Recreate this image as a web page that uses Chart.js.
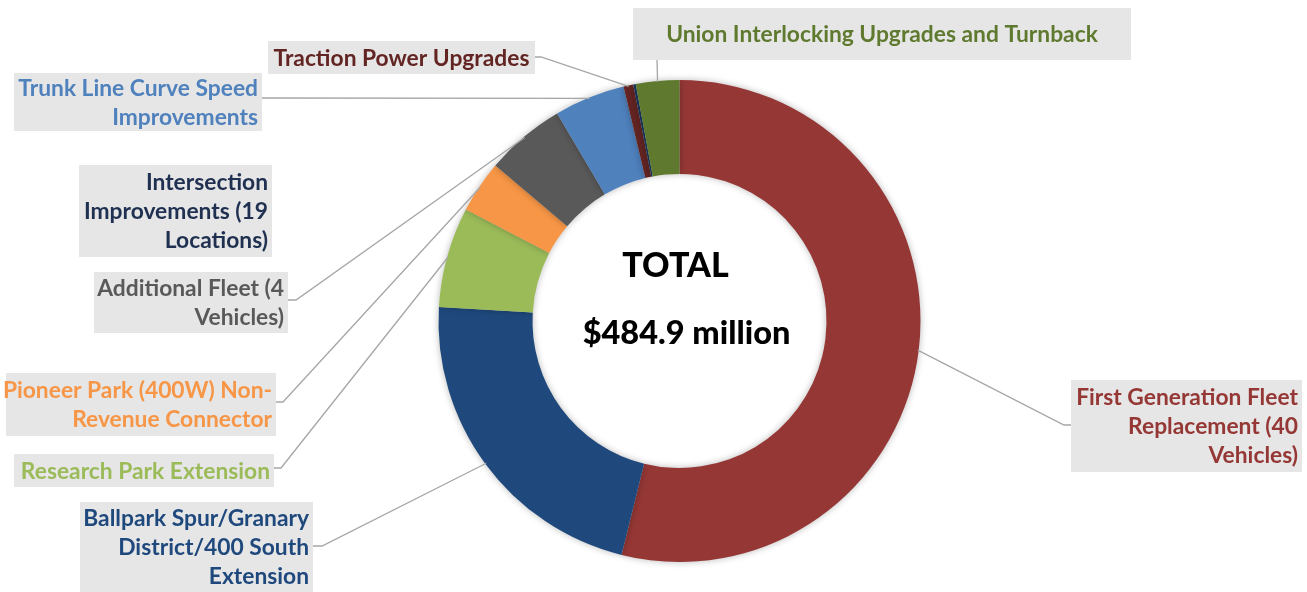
<!DOCTYPE html>
<html>
<head>
<meta charset="utf-8">
<script src="https://cdn.jsdelivr.net/npm/chart.js@4.4.0/dist/chart.umd.min.js"></script>
<style>
  html, body { margin: 0; padding: 0; background: #fff; }
  #wrap { width: 1307px; height: 592px; }
</style>
</head>
<body>
<div id="wrap"><canvas id="grafico"></canvas></div>
<script>
// data ($ millions), clockwise from 12 o'clock
const categories = [
  'First Generation Fleet Replacement (40 Vehicles)',
  'Ballpark Spur/Granary District/400 South Extension',
  'Research Park Extension',
  'Pioneer Park (400W) Non-Revenue Connector',
  'Additional Fleet (4 Vehicles)',
  'Trunk Line Curve Speed Improvements',
  'Traction Power Upgrades',
  'Intersection Improvements (19 Locations)',
  'Union Interlocking Upgrades and Turnback'
]
const values = [261.2, 107, 32.6, 17, 26, 23, 3.2, 0.8, 14.1]
const labelLines = [
  ['First Generation Fleet', 'Replacement (40', 'Vehicles)'],
  ['Ballpark Spur/Granary', 'District/400 South', 'Extension'],
  ['Research Park Extension'],
  ['Pioneer Park (400W) Non-', 'Revenue Connector'],
  ['Additional Fleet (4', 'Vehicles)'],
  ['Trunk Line Curve Speed', 'Improvements'],
  ['Traction Power Upgrades'],
  ['Intersection', 'Improvements (19', 'Locations)'],
  ['Union Interlocking Upgrades and Turnback']
]
const totalTitle = 'TOTAL'
const totalText = '$484.9 million'

const cores = ['#953735', '#1f497d', '#9bbb59', '#f79646', '#595959', '#4f81bd', '#632523', '#17375e', '#5f7a2f']
const coresTexto = ['#953735', '#1f497d', '#9bbb59', '#f79646', '#595959', '#4f81bd', '#632523', '#1f3050', '#5f7a2f']

// label boxes: x, y, w, h, line start (sx, sy), elbow point (ex, ey), align
const caixas = [
  { x: 1071, y: 380, w: 231, h: 92, sx: 1071, sy: 425, ex: 1064, ey: 425, align: 'right' },
  { x: 80, y: 502, w: 233, h: 90, sx: 313, sy: 546, ex: 322, ey: 546, align: 'right' },
  { x: 14, y: 454, w: 260, h: 33, sx: 274, sy: 468, ex: 281, ey: 468, align: 'right' },
  { x: 6, y: 373, w: 270, h: 63, sx: 276, sy: 402, ex: 283, ey: 402, align: 'right' },
  { x: 94, y: 272, w: 194, h: 61, sx: 288, sy: 300, ex: 296, ey: 300, align: 'right' },
  { x: 14, y: 73, w: 248, h: 58, sx: 262, sy: 98, ex: 262, ey: 98, align: 'right' },
  { x: 268, y: 41, w: 267, h: 33, sx: 535, sy: 57, ex: 541, ey: 57, align: 'center' },
  { x: 79, y: 165, w: 193, h: 92, sx: null, align: 'right' },
  { x: 633, y: 8, w: 498, h: 52, sx: 657, sy: 60, ex: 657, ey: 60, align: 'center' }
]

const rotulos = {
  id: 'rotulos',
  beforeDatasetsDraw(chart) {
    const ctx = chart.ctx
    ctx.save()
    ctx.shadowColor = 'rgba(0,0,0,0.28)'
    ctx.shadowBlur = 7
  },
  afterDatasetsDraw(chart) {
    chart.ctx.restore()
  },
  afterDraw(chart) {
    const ctx = chart.ctx
    const meta = chart.getDatasetMeta(0)
    ctx.save()
    for (let i = 0; i < meta.data.length; i++) {
      const arc = meta.data[i]
      const c = caixas[i]
      // leader line
      if (c.sx !== null) {
        const p = arc.getProps(['x', 'y', 'startAngle', 'endAngle', 'outerRadius'], true)
        const mid = (p.startAngle + p.endAngle) / 2
        const r = p.outerRadius - 1
        ctx.strokeStyle = '#a6a6a6'
        ctx.lineWidth = 1.3
        ctx.beginPath()
        ctx.moveTo(c.sx, c.sy)
        ctx.lineTo(c.ex, c.ey)
        ctx.lineTo(p.x + Math.cos(mid) * r, p.y + Math.sin(mid) * r)
        ctx.stroke()
      }
      // box
      ctx.fillStyle = '#e6e6e6'
      ctx.fillRect(c.x, c.y, c.w, c.h)
      // text
      const linhas = labelLines[i]
      const lh = 29
      ctx.font = 'bold 22.8px Lato, "Open Sans", sans-serif'
      ctx.fillStyle = coresTexto[i]
      ctx.textBaseline = 'middle'
      ctx.textAlign = c.align
      const tx = c.align === 'right' ? c.x + c.w - 4 : c.x + c.w / 2
      const y0 = c.y + c.h / 2 - (linhas.length - 1) * lh / 2 + 1
      for (let j = 0; j < linhas.length; j++) {
        ctx.fillText(linhas[j], tx, y0 + j * lh)
      }
    }
    // center text
    const p0 = meta.data[0].getProps(['x', 'y'], true)
    ctx.fillStyle = '#000'
    ctx.textAlign = 'center'
    ctx.textBaseline = 'middle'
    ctx.font = '900 34px Lato, "Open Sans", sans-serif'
    ctx.fillText(totalTitle, p0.x - 4, 266)
    ctx.font = '900 32.5px Lato, "Open Sans", sans-serif'
    ctx.fillText(totalText, p0.x + 7, 334)
    ctx.restore()
  }
}

const ctx = document.getElementById('grafico').getContext('2d')
const meuGrafico = new Chart(ctx, {
  type: 'doughnut',
  data: {
    labels: categories,
    datasets: [{
      data: values,
      backgroundColor: cores,
      borderWidth: 0
    }]
  },
  options: {
    responsive: true,
    maintainAspectRatio: false,
    animation: false,
    cutout: '61%',
    layout: { padding: { top: 80, bottom: 30, left: 52, right: 0 } },
    plugins: {
      legend: { display: false },
      tooltip: { enabled: false }
    }
  },
  plugins: [rotulos]
})
</script>
</body>
</html>
